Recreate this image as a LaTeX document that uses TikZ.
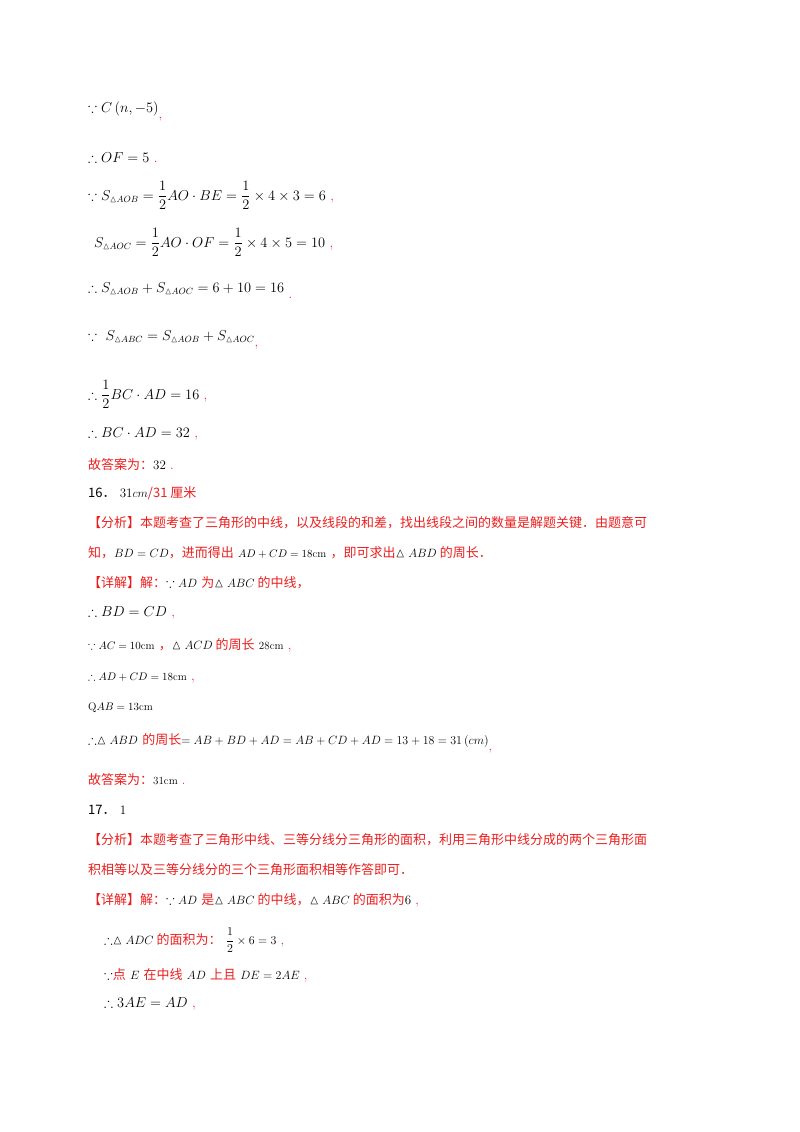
\documentclass[tikz,border=0pt]{standalone}
\usepackage{amsmath,amssymb}
\usepackage{fontspec}
\newfontfamily\cjk{Noto Sans CJK SC}
\definecolor{rd}{RGB}{235,30,30}
\newcommand{\R}[1]{\textcolor{rd}{#1}}
\newcommand{\C}[1]{{\cjk #1}}
\newcommand{\RC}[1]{\textcolor{rd}{\cjk #1}}
\newcommand{\tri}{\vartriangle}
\newcommand{\sm}[1]{{\fontsize{11}{13}\selectfont #1}}
\begin{document}
\begin{tikzpicture}[x=1pt,y=-1pt,every node/.style={anchor=base west,inner sep=0pt,font=\fontsize{13.5}{15}\selectfont}]
\useasboundingbox (0,0) rectangle (800,1132);
\node (l1) at (88,112) {$\because C\left(n,-5\right)$\raisebox{-6pt}{\R{,}}};
\node (l2) at (88,162) {$\therefore OF=5$ \R{.}};
\node (l3) at (88,200) {$\because S_{\tri AOB}=\dfrac12 AO\cdot BE=\dfrac12\times4\times3=6$ \R{,}};
\node (l4) at (94,247) {$S_{\tri AOC}=\dfrac12 AO\cdot OF=\dfrac12\times4\times5=10$ \R{,}};
\node (l5) at (88,292) {$\therefore S_{\tri AOB}+S_{\tri AOC}=6+10=16$ \raisebox{-6pt}{\R{.}}};
\node (l6) at (88,340) {$\because\ S_{\tri ABC}=S_{\tri AOB}+S_{\tri AOC}$\raisebox{-6pt}{\R{,}}};
\node (l7) at (88,399) {$\therefore\dfrac12 BC\cdot AD=16$ \R{,}};
\node (l8) at (88,437) {$\therefore BC\cdot AD=32$ \R{,}};
\node[font=\fontsize{13}{15}\selectfont] (l9) at (88,469) {\RC{故答案为：}32 \R{.}};
\node[font=\fontsize{13}{15}\selectfont] (l10) at (88,497) {\C{16．} 31$cm$\RC{/31 厘米}};
\node[font=\fontsize{13}{15}\selectfont] (l11) at (88,527) {\RC{【分析】本题考查了三角形的中线，以及线段的和差，找出线段之间的数量是解题关键．由题意可}};
\node[font=\fontsize{13}{15}\selectfont] (l12) at (88,557) {\RC{知，}$BD=CD$\RC{，进而得出} \sm{$AD+CD=18$cm} \RC{，即可求出}$\tri ABD$\RC{ 的周长．}};
\node[font=\fontsize{13}{15}\selectfont] (l13) at (88,587) {\RC{【详解】解：}$\because AD$ \RC{为}$\tri ABC$\RC{ 的中线，}};
\node (l14) at (88,616) {$\therefore BD=CD$ \R{,}};
\node[font=\fontsize{13}{15}\selectfont] (l15) at (88,649) {\sm{$\because AC=10$cm} \RC{，}$\tri ACD$\RC{ 的周长} \sm{28cm} \R{,}};
\node (l16) at (88,680) {\sm{$\therefore AD+CD=18$cm} \R{,}};
\node (l17) at (88,710) {\sm{Q$AB=13$cm}};
\node[font=\fontsize{13}{15}\selectfont] (l18) at (88,744) {$\therefore\tri ABD$ \RC{的周长}$=AB+BD+AD=AB+CD+AD=13+18=31\left(cm\right)$\raisebox{-6pt}{\R{,}}};
\node[font=\fontsize{13}{15}\selectfont] (l19) at (88,784) {\RC{故答案为：}\sm{31cm} \R{.}};
\node[font=\fontsize{13}{15}\selectfont] (l20) at (88,814) {\C{17．} 1};
\node[font=\fontsize{13}{15}\selectfont] (l21) at (88,844) {\RC{【分析】本题考查了三角形中线、三等分线分三角形的面积，利用三角形中线分成的两个三角形面}};
\node[font=\fontsize{13}{15}\selectfont] (l22) at (88,874) {\RC{积相等以及三等分线分的三个三角形面积相等作答即可．}};
\node[font=\fontsize{13}{15}\selectfont] (l23) at (88,904) {\RC{【详解】解：}$\because AD$ \RC{是}$\tri ABC$\RC{ 的中线，}$\tri ABC$\RC{ 的面积为}6 \R{,}};
\node[font=\fontsize{13}{15}\selectfont] (l24) at (104,944) {$\therefore\tri ADC$\RC{ 的面积为：} $\dfrac12\times6=3$ \R{,}};
\node[font=\fontsize{13}{15}\selectfont] (l25) at (104,979) {$\because$\RC{点} $E$ \RC{在中线} $AD$ \RC{上且} $DE=2AE$ \R{,}};
\node (l26) at (104,1007) {$\therefore 3AE=AD$ \R{,}};
\end{tikzpicture}
\end{document}
